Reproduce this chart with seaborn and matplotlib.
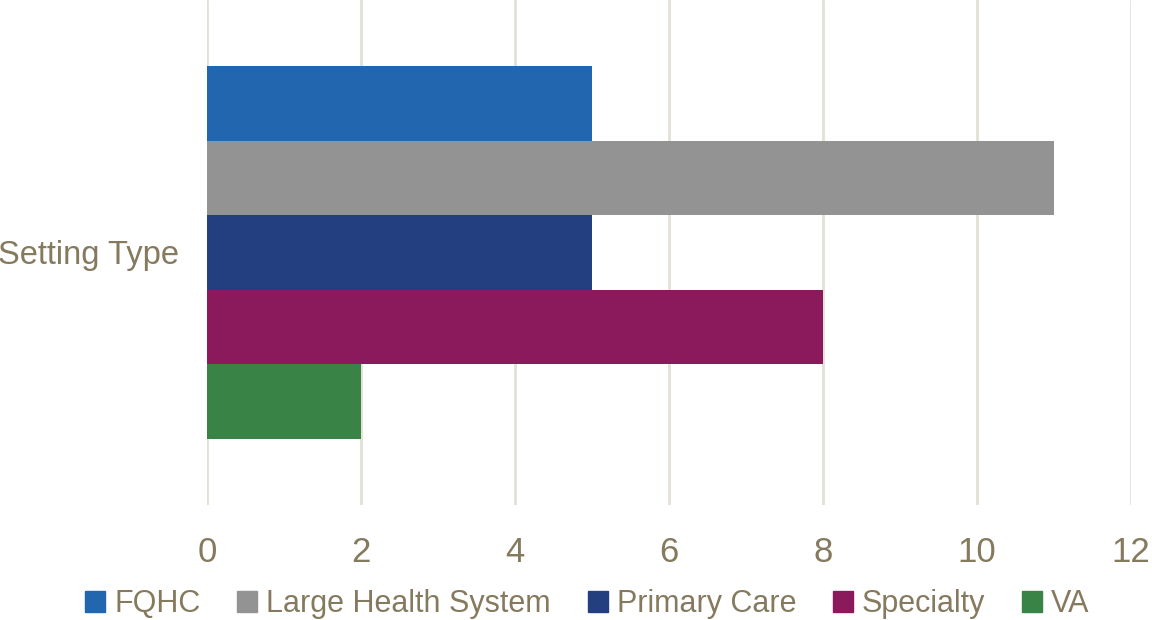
import pandas as pd
import seaborn as sns
import matplotlib.pyplot as plt

categories = ["Setting Type"]
types = ["FQHC", "Large Health System", "Primary Care", "Specialty", "VA"]
counts = [5, 11, 5, 8, 2]
colors = ["#2266B0", "#939393", "#233F80", "#8A1A5C", "#3A8346"]
ticks = [0, 2, 4, 6, 8, 10, 12]

sns.set_theme(style="white")
plt.rcParams['font.family'] = ['Liberation Sans', 'DejaVu Sans']
txt = "#857A5E"

df = pd.DataFrame({"setting": categories * len(types), "type": types, "count": counts})

fig = plt.figure(figsize=(11.52, 6.2), dpi=100)
ax = fig.add_axes([0.1797, 0.1855, 0.8021, 0.8145])
sns.barplot(data=df, x="count", y="setting", hue="type", hue_order=types,
            palette=colors, saturation=1, width=0.737, linewidth=0, ax=ax, legend=False)

ax.set_xlim(0, 12)
ax.set_ylim(0.5, -0.5)
ax.set_xticks(ticks)
ax.set_xlabel("")
ax.set_ylabel("")
ax.grid(axis="x", color="#E3E0D6", linewidth=2)
ax.set_axisbelow(True)
for s in ax.spines.values():
    s.set_visible(False)
ax.tick_params(axis="x", length=0, pad=22, labelsize=25, labelcolor=txt)
ax.tick_params(axis="y", length=0, pad=20, labelsize=23.5, labelcolor=txt)

handles = [plt.Rectangle((0, 0), 1, 1, color=c) for c in colors]
fig.legend(handles, types, loc="lower center", bbox_to_anchor=(0.51, -0.043), ncol=5,
           frameon=False, handlelength=0.65, handleheight=0.65, handletextpad=0.3,
           columnspacing=1.2, prop={"size": 22}, labelcolor=txt)

fig.savefig("out.png", dpi=100)
